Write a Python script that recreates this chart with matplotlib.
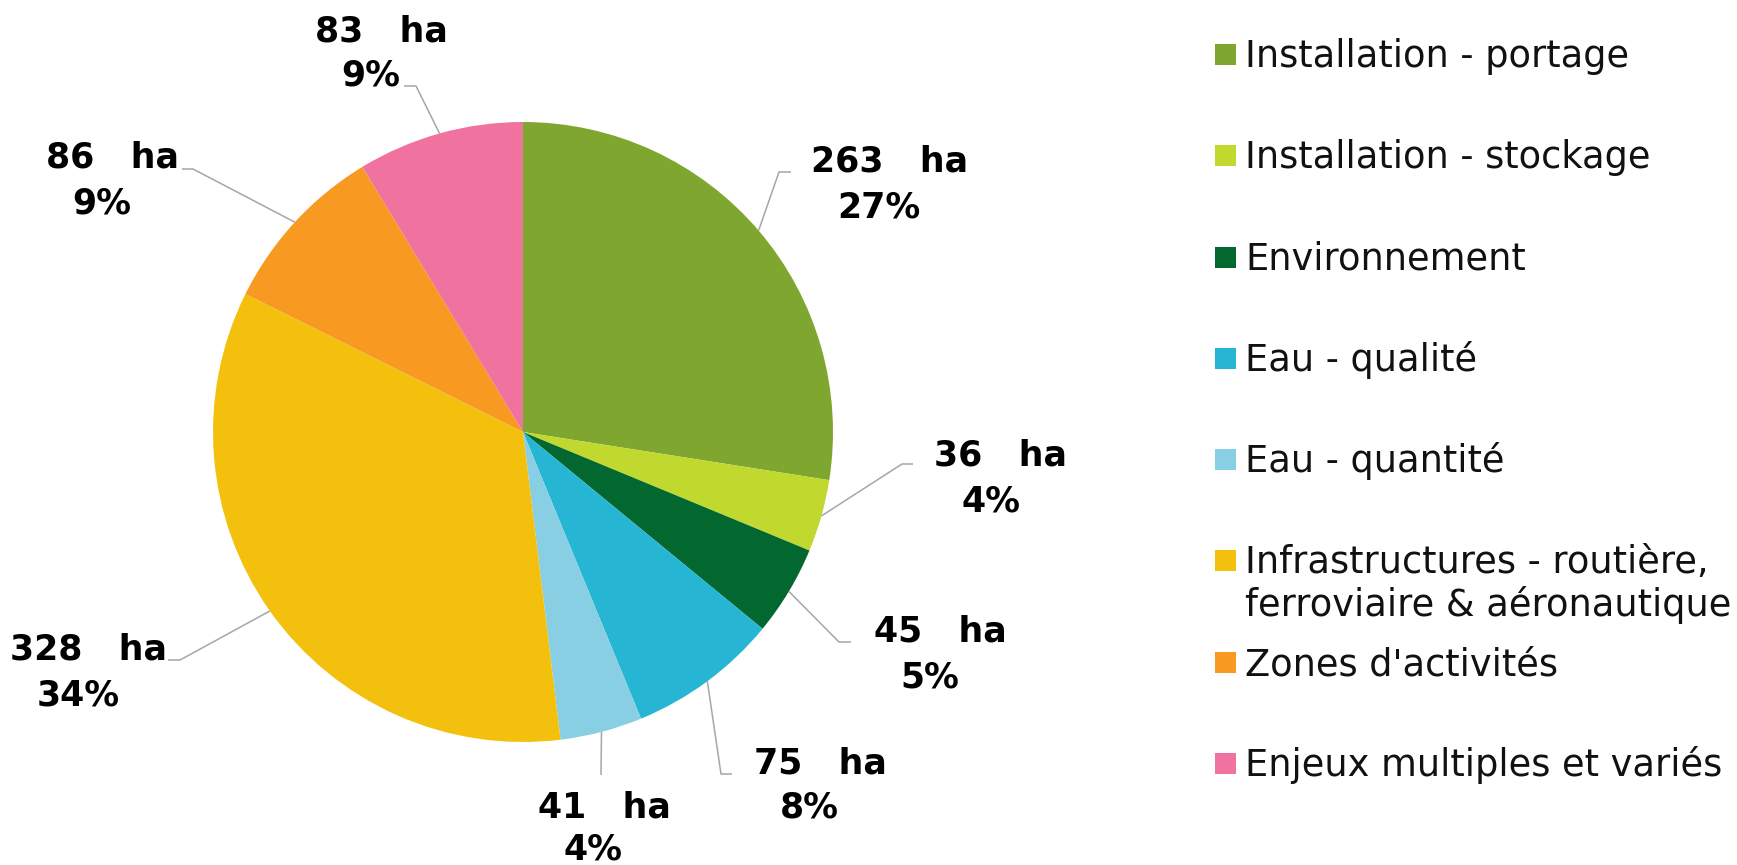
import numpy as np
import matplotlib
matplotlib.use("Agg")
import matplotlib.pyplot as plt
from matplotlib.patches import Rectangle

W, H = 1737, 865

categories = [
    "Installation - portage",
    "Installation - stockage",
    "Environnement",
    "Eau - qualité",
    "Eau - quantité",
    "Infrastructures - routière,\nferroviaire & aéronautique",
    "Zones d'activités",
    "Enjeux multiples et variés",
]
surfaces_ha = [263, 36, 45, 75, 41, 328, 86, 83]
colors = ["#7FA72F", "#C1D82F", "#03682F", "#26B6D3",
          "#88CFE4", "#F3C10D", "#F89A21", "#EF729F"]

# ── layout, in image pixels (origin top-left) ─────────────────
PIE_CX, PIE_CY, PIE_R = 523, 432, 310
line1_pos = [(890, 172), (1001, 465), (940, 642), (820, 773),
             (604, 817), (88, 660), (112, 168), (381, 41)]
line2_pos = [(879, 217), (991, 511), (930, 687), (809, 818),
             (593, 859), (78, 706), (102, 213), (371, 86)]
elbows = [(779, 172), (902, 464), (839, 642), (721, 774),
          (601, 775), (180, 660), (193, 169), (416, 86)]
ends = [(791, 172), (913, 464), (851, 642), (732, 774),
        None, (168, 660), (182, 169), (404, 86)]
legend_rows = [54, 155, 257, 358, 459, 560, 662, 763]

FONT = "DejaVu Sans"


def fy(y):
    return H - y


fig = plt.figure(figsize=(W / 100, H / 100), dpi=100)
ax = fig.add_axes([0, 0, 1, 1])

wedges, _ = ax.pie(surfaces_ha, colors=colors, startangle=90,
                   counterclock=False, radius=PIE_R,
                   center=(PIE_CX, fy(PIE_CY)),
                   wedgeprops=dict(linewidth=0))
ax.set_xlim(0, W)
ax.set_ylim(0, H)
ax.set_aspect("equal")
ax.axis("off")

# ── data labels + leader lines ────────────────────────────────
total = sum(surfaces_ha)
for i, (w, v) in enumerate(zip(wedges, surfaces_ha)):
    mid = np.deg2rad((w.theta1 + w.theta2) / 2)
    ex = PIE_CX + PIE_R * np.cos(mid)
    ey = fy(PIE_CY) + PIE_R * np.sin(mid)
    xs = [ex, elbows[i][0]]
    ys = [ey, fy(elbows[i][1])]
    if ends[i] is not None:
        xs.append(ends[i][0])
        ys.append(fy(ends[i][1]))
    ax.plot(xs, ys, color="#A6A6A6", linewidth=1.1, solid_capstyle="butt")

    pct = round(v / total * 100)
    ax.text(line1_pos[i][0], fy(line1_pos[i][1]), f"{v}   ha",
            ha="center", va="baseline", fontsize=25, fontweight="bold",
            family=FONT, color="black")
    ax.text(line2_pos[i][0], fy(line2_pos[i][1]), f"{pct}%",
            ha="center", va="baseline", fontsize=25, fontweight="bold",
            family=FONT, color="black")

# ── legend ────────────────────────────────────────────────────
for cat, col, yc in zip(categories, colors, legend_rows):
    ax.add_patch(Rectangle((1215, fy(yc) - 10.5), 21, 21,
                           facecolor=col, edgecolor="none"))
    for j, line in enumerate(cat.split("\n")):
        ax.text(1245, fy(yc + 13 + j * 43), line, ha="left", va="baseline",
                fontsize=26.5, family=FONT, color="#111111")

fig.savefig("out.png", dpi=100, facecolor="white")
